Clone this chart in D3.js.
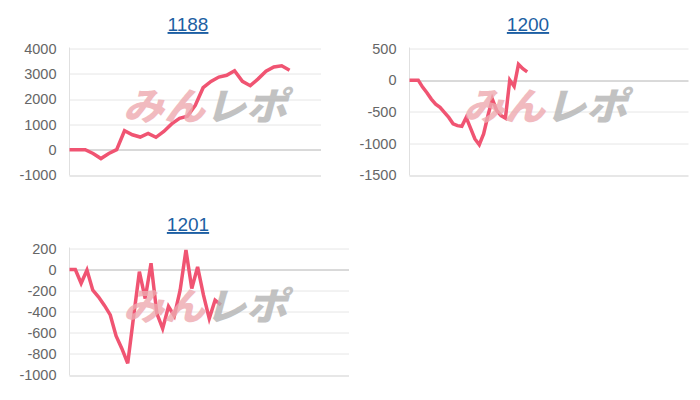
<!DOCTYPE html>
<html>
<head>
<meta charset="utf-8">
<script src="https://cdn.jsdelivr.net/npm/d3@7"></script>
<style>
  body { margin: 0; background: #fff; }
  svg { display: block; font-family: "Liberation Sans", Arial, sans-serif; }
</style>
</head>
<body>
<svg width="700" height="400"></svg>
<script>
// chart data
var titles = ["1188", "1200", "1201"];

var values1188 = [0, 0, 0, -150, -350, -150, 0, 750, 590, 500, 640, 490, 720, 1020, 1240,
  1320, 1750, 2450, 2700, 2870, 2940, 3120, 2700, 2530, 2800, 3100, 3270, 3320, 3140];
var values1200 = [0, 0, 0, -110, -200, -300, -380, -430, -510, -590, -690, -720, -730, -590,
  -760, -930, -1020, -850, -560, -300, -480, -560, -600, 0, -100, 250, 180, 130];
var values1201 = [0, 0, -130, -5, -195, -260, -340, -430, -630, -750, -890, -450, -20, -275,
  60, -415, -560, -350, -440, -195, 185, -180, 25, -240, -465, -290, -335];

var ticks1188 = [-1000, 0, 1000, 2000, 3000, 4000];
var ticks1200 = [-1500, -1000, -500, 0, 500];
var ticks1201 = [-1000, -800, -600, -400, -200, 0, 200];

var svg = d3.select('svg');

var panels = [
  {title: titles[0], values: values1188, ticks: ticks1188, ox: 0,   oy: 0,   w: 251.5, slots: 32},
  {title: titles[1], values: values1200, ticks: ticks1200, ox: 340, oy: 0,   w: 279,   slots: 64},
  {title: titles[2], values: values1201, ticks: ticks1201, ox: 0,   oy: 200, w: 279.5, slots: 48}
];

var padding = {t: 48.5, l: 69.5};
var plotHeight = 126.5;

panels.forEach(function(p) {
  var g = svg.append('g')
    .attr('transform', 'translate(' + [p.ox, p.oy] + ')');

  // title (link style)
  g.append('text')
    .attr('x', 188)
    .attr('y', 31)
    .attr('text-anchor', 'middle')
    .attr('font-size', 19)
    .attr('fill', '#1d5fa3')
    .attr('text-decoration', 'underline')
    .text(p.title);

  var chart = g.append('g')
    .attr('transform', 'translate(' + [padding.l, padding.t] + ')');

  var xScale = d3.scaleLinear()
    .domain([0, p.slots])
    .range([0, p.w]);

  var yScale = d3.scaleLinear()
    .domain(d3.extent(p.ticks))
    .range([plotHeight, 0]);

  // grid lines
  chart.selectAll('.grid')
    .data(p.ticks)
    .enter()
    .append('line')
    .attr('class', 'grid')
    .attr('x1', 0)
    .attr('x2', p.w)
    .attr('y1', function(d) { return Math.round(yScale(d)) + 0.5; })
    .attr('y2', function(d) { return Math.round(yScale(d)) + 0.5; })
    .attr('stroke', function(d, i) { return d === 0 ? '#b4b4b4' : (i === 0 ? '#cfcfcf' : '#e6e6e6'); })
    .attr('stroke-width', 1);

  // left axis line
  chart.append('line')
    .attr('x1', 0).attr('x2', 0)
    .attr('y1', -1).attr('y2', plotHeight + 0.5)
    .attr('stroke', '#e0e0e0');

  // y tick labels
  chart.selectAll('.tick-label')
    .data(p.ticks)
    .enter()
    .append('text')
    .attr('class', 'tick-label')
    .attr('x', -13)
    .attr('y', function(d) { return yScale(d); })
    .attr('dy', '0.36em')
    .attr('text-anchor', 'end')
    .attr('font-size', 14.5)
    .attr('fill', '#666')
    .text(function(d) { return d; });

  // watermark
  var wm = g.append('text')
    .attr('x', 123)
    .attr('y', 120)
    .attr('font-size', 38)
    .attr('font-weight', 900)
    .attr('font-style', 'italic')
    .attr('font-family', '"Noto Sans CJK JP", sans-serif')
    .attr('textLength', 164)
    .attr('lengthAdjust', 'spacingAndGlyphs')
    .attr('opacity', 0.8);
  wm.append('tspan').attr('fill', '#eeaab0').text('みん');
  wm.append('tspan').attr('fill', '#b4b4b4').text('レポ');

  // series line
  chart.append('path')
    .datum(p.values)
    .attr('fill', 'none')
    .attr('stroke', '#f05472')
    .attr('stroke-width', 3.5)
    .attr('stroke-linejoin', 'miter')
    .attr('d', d3.line()
      .x(function(d, i) { return xScale(i); })
      .y(function(d) { return yScale(d); })
    );
});
</script>
</body>
</html>
